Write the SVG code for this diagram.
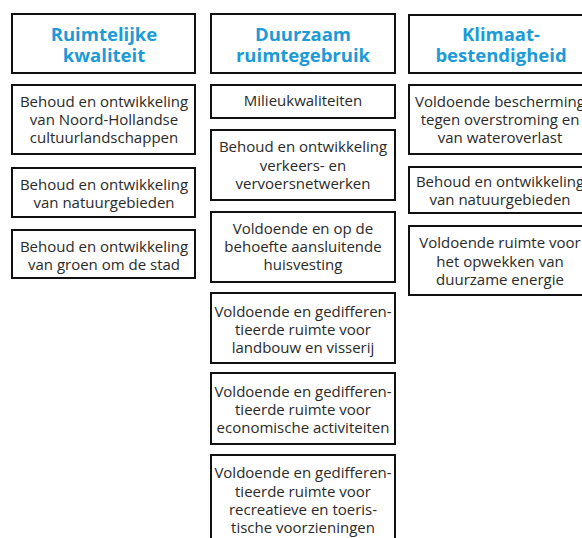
<svg xmlns="http://www.w3.org/2000/svg" width="582" height="538" viewBox="0 0 582 538">
<style>
.box{fill:#fff;stroke:#111;stroke-width:2}
.h{font-family:"Open Sans","Noto Sans",sans-serif;font-weight:bold;font-size:18.5px;fill:#1c9bd8;text-anchor:middle}
.t{font-family:"Open Sans","Noto Sans",sans-serif;font-size:15px;fill:#2a2a2a;text-anchor:middle}
</style>
<rect width="582" height="538" fill="#fff"/>
<g id="c1h"><rect class="box" x="12" y="14" width="183" height="59"/><text class="h" x="104" y="41">Ruimtelijke</text><text class="h" x="104" y="62">kwaliteit</text></g>
<g id="c1b1"><rect class="box" x="12" y="85" width="183" height="69"/><text class="t" x="104" y="107">Behoud en ontwikkeling</text><text class="t" x="104" y="125">van Noord-Hollandse</text><text class="t" x="104" y="143">cultuurlandschappen</text></g>
<g id="c1b2"><rect class="box" x="12" y="168" width="183" height="49"/><text class="t" x="104" y="190">Behoud en ontwikkeling</text><text class="t" x="104" y="208">van natuurgebieden</text></g>
<g id="c1b3"><rect class="box" x="12" y="230" width="183" height="48"/><text class="t" x="104" y="252">Behoud en ontwikkeling</text><text class="t" x="104" y="270">van groen om de stad</text></g>

<g id="c2h"><rect class="box" x="211" y="14" width="184" height="59"/><text class="h" x="303" y="41">Duurzaam</text><text class="h" x="303" y="62">ruimtegebruik</text></g>
<g id="c2b1"><rect class="box" x="211" y="85" width="184" height="33"/><text class="t" x="303" y="106">Milieukwaliteiten</text></g>
<g id="c2b2"><rect class="box" x="211" y="130" width="184" height="70"/><text class="t" x="303" y="152">Behoud en ontwikkeling</text><text class="t" x="303" y="171">verkeers- en</text><text class="t" x="303" y="189">vervoersnetwerken</text></g>
<g id="c2b3"><rect class="box" x="211" y="212" width="184" height="70"/><text class="t" x="303" y="234">Voldoende en op de</text><text class="t" x="303" y="252">behoefte aansluitende</text><text class="t" x="303" y="270">huisvesting</text></g>
<g id="c2b4"><rect class="box" x="211" y="293" width="184" height="70"/><text class="t" x="303" y="317">Voldoende en gedifferen-</text><text class="t" x="303" y="335">tieerde ruimte voor</text><text class="t" x="303" y="353">landbouw en visserij</text></g>
<g id="c2b5"><rect class="box" x="211" y="373" width="184" height="71"/><text class="t" x="303" y="397">Voldoende en gedifferen-</text><text class="t" x="303" y="415">tieerde ruimte voor</text><text class="t" x="303" y="433">economische activiteiten</text></g>
<g id="c2b6"><rect class="box" x="211" y="455" width="184" height="90"/><text class="t" x="303" y="478">Voldoende en gedifferen-</text><text class="t" x="303" y="497">tieerde ruimte voor</text><text class="t" x="303" y="515">recreatieve en toeris-</text><text class="t" x="303" y="533">tische voorzieningen</text></g>

<g id="c3h"><rect class="box" x="409" y="15" width="184" height="58"/><text class="h" x="501" y="41">Klimaat-</text><text class="h" x="501" y="62">bestendigheid</text></g>
<g id="c3b1"><rect class="box" x="409" y="85" width="184" height="69"/><text class="t" x="500" y="107">Voldoende bescherming</text><text class="t" x="500" y="125">tegen overstroming en</text><text class="t" x="500" y="143">van wateroverlast</text></g>
<g id="c3b2"><rect class="box" x="409" y="167" width="184" height="46"/><text class="t" x="500" y="187">Behoud en ontwikkeling</text><text class="t" x="500" y="205">van natuurgebieden</text></g>
<g id="c3b3"><rect class="box" x="409" y="226" width="184" height="69"/><text class="t" x="500" y="248">Voldoende ruimte voor</text><text class="t" x="500" y="267">het opwekken van</text><text class="t" x="500" y="285">duurzame energie</text></g>
<g id="connectors"></g>
</svg>
